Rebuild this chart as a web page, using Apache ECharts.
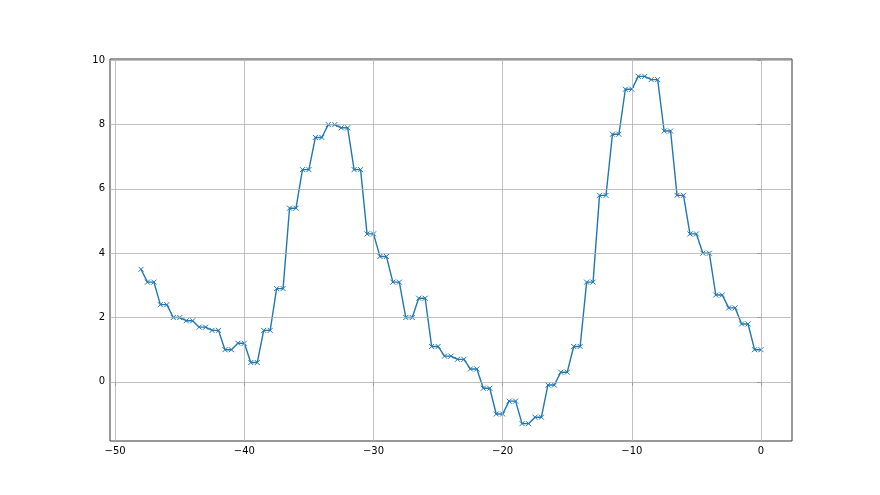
<!DOCTYPE html>
<html>
<head>
<meta charset="utf-8">
<script src="https://cdn.jsdelivr.net/npm/echarts@6/dist/echarts.min.js"></script>
<style>html,body{margin:0;padding:0;background:#fff;}#c{width:880px;height:495px;}</style>
</head>
<body>
<div id="c"></div>
<script>
const xValues = [-48, -47.5, -47, -46.5, -46, -45.5, -45, -44.5, -44, -43.5, -43, -42.5, -42, -41.5, -41, -40.5, -40,
  -39.5, -39, -38.5, -38, -37.5, -37, -36.5, -36, -35.5, -35, -34.5, -34, -33.5, -33, -32.5, -32, -31.5, -31, -30.5, -30,
  -29.5, -29, -28.5, -28, -27.5, -27, -26.5, -26, -25.5, -25, -24.5, -24, -23.5, -23, -22.5, -22, -21.5, -21, -20.5, -20,
  -19.5, -19, -18.5, -18, -17.5, -17, -16.5, -16, -15.5, -15, -14.5, -14, -13.5, -13, -12.5, -12, -11.5, -11, -10.5, -10,
  -9.5, -9, -8.5, -8, -7.5, -7, -6.5, -6, -5.5, -5, -4.5, -4, -3.5, -3, -2.5, -2, -1.5, -1, -0.5, 0];
const yValues = [3.5, 3.1, 3.1, 2.4, 2.4, 2.0, 2.0, 1.9, 1.9, 1.7, 1.7, 1.6, 1.6, 1.0, 1.0, 1.2, 1.2,
  0.6, 0.6, 1.6, 1.6, 2.9, 2.9, 5.4, 5.4, 6.6, 6.6, 7.6, 7.6, 8.0, 8.0, 7.9, 7.9, 6.6, 6.6, 4.6, 4.6,
  3.9, 3.9, 3.1, 3.1, 2.0, 2.0, 2.6, 2.6, 1.1, 1.1, 0.8, 0.8, 0.7, 0.7, 0.4, 0.4, -0.2, -0.2, -1.0, -1.0,
  -0.6, -0.6, -1.3, -1.3, -1.1, -1.1, -0.1, -0.1, 0.3, 0.3, 1.1, 1.1, 3.1, 3.1, 5.8, 5.8, 7.7, 7.7, 9.1, 9.1,
  9.5, 9.5, 9.4, 9.4, 7.8, 7.8, 5.8, 5.8, 4.6, 4.6, 4.0, 4.0, 2.7, 2.7, 2.3, 2.3, 1.8, 1.8, 1.0, 1.0];
const xTicks = [-50, -40, -30, -20, -10, 0];
const yTicks = [0, 2, 4, 6, 8, 10];

const points = xValues.map((x, i) => [x, yValues[i]]);
const fmt = v => String(v).replace('-', '\u2212');
const font = 'DejaVu Sans';

const chart = echarts.init(document.getElementById('c'), null, {renderer: 'canvas'});
chart.setOption({
  animation: false,
  backgroundColor: '#ffffff',
  grid: {left: 110, right: 88, top: 59, bottom: 54, show: true, borderColor: '#333', borderWidth: 1, backgroundColor: 'transparent'},
  xAxis: {
    type: 'value', min: -50.4, max: 2.4,
    axisLine: {show: false},
    splitLine: {show: false},
    axisTick: {show: true, customValues: xTicks, length: 4, lineStyle: {color: '#333', width: 1}},
    axisLabel: {customValues: xTicks, formatter: fmt, color: '#000', fontSize: 10, fontFamily: font, margin: 5}
  },
  yAxis: {
    type: 'value', min: -1.84, max: 10.04,
    axisLine: {show: false},
    splitLine: {show: false},
    axisTick: {show: true, customValues: yTicks, length: 4, lineStyle: {color: '#333', width: 1}},
    axisLabel: {customValues: yTicks, formatter: fmt, color: '#000', fontSize: 10, fontFamily: font, margin: 5}
  },
  series: [
    {
      type: 'line', data: points, symbol: 'none', silent: true, z: 1,
      lineStyle: {opacity: 0},
      markLine: {
        silent: true, symbol: ['none', 'none'], label: {show: false}, animation: false,
        lineStyle: {color: '#b0b0b0', width: 0.8, type: 'solid'},
        emphasis: {disabled: true},
        data: xTicks.map(v => ({xAxis: v})).concat(yTicks.map(v => ({yAxis: v})))
      }
    },
    {
      type: 'line', data: points, z: 3,
      symbol: 'path://M0,0L10,10M10,0L0,10', symbolSize: 5,
      itemStyle: {color: '#1f77b4', borderColor: '#1f77b4', borderWidth: 1},
      lineStyle: {color: '#1f77b4', width: 1.4},
      showAllSymbol: true
    }
  ]
});
</script>
</body>
</html>
